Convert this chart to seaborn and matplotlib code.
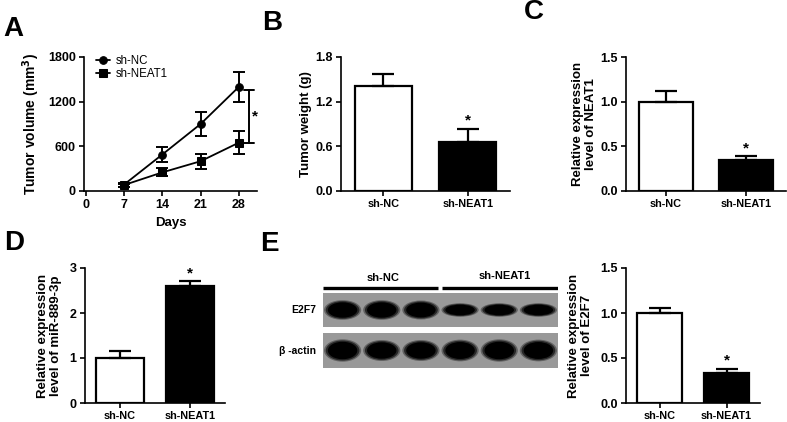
import numpy as np
import pandas as pd
import matplotlib
matplotlib.use("Agg")
import matplotlib.pyplot as plt
from matplotlib.patches import Ellipse
import seaborn as sns

sns.set_theme(style="ticks")
plt.rcParams['font.family'] = ['Liberation Sans', 'DejaVu Sans']
plt.rcParams['font.weight'] = 'bold'
plt.rcParams['axes.labelweight'] = 'bold'
plt.rcParams['axes.linewidth'] = 1.2
plt.rcParams['xtick.major.width'] = 1.2
plt.rcParams['ytick.major.width'] = 1.2
plt.rcParams['xtick.major.size'] = 3.5
plt.rcParams['ytick.major.size'] = 3.5
plt.rcParams['xtick.major.pad'] = 2.5
plt.rcParams['ytick.major.pad'] = 2.5
plt.rcParams['xtick.color'] = 'black'
plt.rcParams['ytick.color'] = 'black'
plt.rcParams['axes.edgecolor'] = 'black'
plt.rcParams['text.color'] = 'black'
plt.rcParams['axes.labelcolor'] = 'black'

# ---------------- data ----------------
groups = ["sh-NC", "sh-NEAT1"]
bar_colors = ["white", "black"]

# Panel A: tumor volume
days = [7, 14, 21, 28]
vol_nc = [85, 490, 900, 1400]
vol_nc_err = [25, 95, 155, 205]
vol_neat = [80, 250, 400, 650]
vol_neat_err = [20, 55, 100, 150]
a_xticks = [0, 7, 14, 21, 28]
a_yticks = [0, 600, 1200, 1800]

# Panel B: tumor weight
weight = [1.41, 0.66]
weight_err = [0.16, 0.17]
b_yticks = [0.0, 0.6, 1.2, 1.8]

# Panel C: NEAT1 expression
neat1_expr = [1.0, 0.35]
neat1_err = [0.115, 0.04]
c_yticks = [0.0, 0.5, 1.0, 1.5]

# Panel D: miR-889-3p expression
mir_expr = [1.0, 2.6]
mir_err = [0.15, 0.12]
d_yticks = [0, 1, 2, 3]

# Panel E: E2F7 expression + blot band intensities (relative band thickness)
e2f7_expr = [1.0, 0.335]
e2f7_err = [0.06, 0.045]
e_yticks = [0.0, 0.5, 1.0, 1.5]
blot_lanes = ["sh-NC", "sh-NC", "sh-NC", "sh-NEAT1", "sh-NEAT1", "sh-NEAT1"]
band_e2f7 = [0.58, 0.58, 0.56, 0.40, 0.40, 0.40]
band_actin = [0.64, 0.60, 0.60, 0.62, 0.64, 0.62]

W, H = 787, 422
fig = plt.figure(figsize=(W / 100, H / 100), dpi=100)


def px_axes(left, top, right, bottom):
    return fig.add_axes([left / W, 1 - bottom / H, (right - left) / W, (bottom - top) / H])


TICK_FS = 9
LAB_FS = 9.5
XT_FS = 7.8


def bar_panel(ax, vals, errs, yticks, ylabel, star_idx, star_off, label_x):
    df = pd.DataFrame({"group": groups, "value": vals})
    sns.barplot(data=df, x="group", y="value", hue="group", palette=bar_colors,
                edgecolor="black", linewidth=1.6, width=0.68, ax=ax, legend=False,
                errorbar=None)
    ax.errorbar(x=[0, 1], y=vals, yerr=[[0, 0], errs], fmt="none", ecolor="black",
                elinewidth=1.6, capsize=8, capthick=1.6, zorder=5)
    top = vals[star_idx] + errs[star_idx]
    ax.text(star_idx, top + star_off, "*", ha="center", va="bottom", fontsize=11,
            fontweight="bold")
    ax.set_xlim(-0.5, 1.5)
    ax.set_ylim(yticks[0], yticks[-1])
    ax.set_yticks(yticks)
    ax.set_yticklabels([str(t) for t in yticks], fontsize=TICK_FS, fontweight="bold")
    ax.set_xticks([0, 1])
    ax.set_xticklabels(groups, fontsize=XT_FS, fontweight="bold")
    ax.set_xlabel("")
    ax.set_ylabel(ylabel, fontsize=LAB_FS, fontweight="bold", linespacing=1.1)
    ax.yaxis.set_label_coords(label_x, 0.5)
    sns.despine(ax=ax)


# ---------------- Panel A ----------------
axA = px_axes(84, 57, 257, 191)
dfA = pd.DataFrame({
    "day": days + days,
    "vol": vol_nc + vol_neat,
    "group": ["sh-NC"] * len(days) + ["sh-NEAT1"] * len(days),
})
sns.lineplot(data=dfA, x="day", y="vol", hue="group", style="group",
             markers={"sh-NC": "o", "sh-NEAT1": "s"}, dashes=False,
             palette={"sh-NC": "black", "sh-NEAT1": "black"}, linewidth=1.3,
             markersize=5.5, markeredgecolor="black", ax=axA, errorbar=None)
axA.errorbar(days, vol_nc, yerr=vol_nc_err, fmt="none", ecolor="black",
             elinewidth=1.4, capsize=4, capthick=1.4)
axA.errorbar(days, vol_neat, yerr=vol_neat_err, fmt="none", ecolor="black",
             elinewidth=1.4, capsize=4, capthick=1.4)
# significance bracket
bx = 29.8
axA.plot([bx, bx], [vol_neat[-1], vol_nc[-1] - 40], color="black", lw=1.4)
axA.plot([bx - 0.9, bx + 0.9], [vol_nc[-1] - 40] * 2, color="black", lw=1.4)
axA.plot([bx - 0.9, bx + 0.9], [vol_neat[-1]] * 2, color="black", lw=1.4)
axA.text(bx + 0.5, 1000, "*", ha="left", va="center", fontsize=11, fontweight="bold")
axA.set_xlim(-0.3, 31.3)
axA.set_ylim(0, 1800)
axA.set_xticks(a_xticks)
axA.set_xticklabels([str(t) for t in a_xticks], fontsize=TICK_FS, fontweight="bold")
axA.set_yticks(a_yticks)
axA.set_yticklabels([str(t) for t in a_yticks], fontsize=TICK_FS, fontweight="bold")
axA.set_xlabel("Days", fontsize=LAB_FS, fontweight="bold", labelpad=4)
axA.set_ylabel("Tumor volume (mm$^\\mathbf{3}$)", fontsize=LAB_FS + 0.5, fontweight="bold")
axA.yaxis.set_label_coords(-0.24, 0.5)
leg = axA.legend(loc="upper left", bbox_to_anchor=(0.03, 1.07), frameon=False,
                 fontsize=8.3, handlelength=1.2, handletextpad=0.5, labelspacing=0.15,
                 borderaxespad=0.2)
for t in leg.get_texts():
    t.set_fontweight("normal")
sns.despine(ax=axA)

# ---------------- Panel B ----------------
axB = px_axes(341, 57, 510, 191)
bar_panel(axB, weight, weight_err, b_yticks, "Tumor weight (g)", 1, 0.02, -0.17)

# ---------------- Panel C ----------------
axC = px_axes(626, 57, 786, 191)
bar_panel(axC, neat1_expr, neat1_err, c_yticks, "Relative expression\nlevel of NEAT1",
          1, 0.01, -0.18)

# ---------------- Panel D ----------------
axD = px_axes(85, 268, 225, 403)
bar_panel(axD, mir_expr, mir_err, d_yticks, "Relative expression\nlevel of miR-889-3p",
          1, 0.0, -0.165)

# ---------------- Panel E (bars) ----------------
axE = px_axes(626, 268, 760, 403)
bar_panel(axE, e2f7_expr, e2f7_err, e_yticks, "Relative expression\nlevel of E2F7",
          1, 0.01, -0.245)

# ---------------- Panel E (blot) ----------------
def blot_panel(ax, bands, label):
    ax.set_facecolor("#999999")
    ax.set_xlim(0, len(bands))
    ax.set_ylim(0, 1)
    for i, h in enumerate(bands):
        for scale, alpha in [(1.0, 0.35), (0.9, 0.6), (0.78, 1.0)]:
            ax.add_patch(Ellipse((i + 0.5, 0.5), 0.95 * scale + 0.05 * (1 - scale),
                                 h * scale, facecolor="black", edgecolor="none",
                                 alpha=alpha))
    ax.set_xticks([])
    ax.set_yticks([])
    for s in ax.spines.values():
        s.set_visible(False)
    ax.text(-0.03, 0.5, label, transform=ax.transAxes, ha="right", va="center",
            fontsize=7.5, fontweight="bold")


axBlot1 = px_axes(323, 293, 558, 327)
blot_panel(axBlot1, band_e2f7, "E2F7")
axBlot2 = px_axes(323, 333, 558, 368)
blot_panel(axBlot2, band_actin, "β -actin")

axHead = px_axes(323, 265, 558, 291)
axHead.set_xlim(0, len(blot_lanes))
axHead.set_ylim(0, 1)
axHead.axis("off")
nc_n = blot_lanes.count("sh-NC")
axHead.plot([0, nc_n - 0.06], [0.12, 0.12], color="black", lw=2.4,
            solid_capstyle="butt")
axHead.plot([nc_n + 0.03, len(blot_lanes)], [0.12, 0.12], color="black", lw=2.4,
            solid_capstyle="butt")
axHead.text(nc_n / 2 + 0.03, 0.5, "sh-NC", ha="center", va="center", fontsize=8,
            fontweight="bold")
axHead.text(nc_n + (len(blot_lanes) - nc_n) / 2 + 0.15, 0.57, "sh-NEAT1", ha="center",
            va="center", fontsize=8, fontweight="bold")

# ---------------- panel letters ----------------
for letter, (x, y) in {"A": (13, 29), "B": (272, 23), "C": (534, 12),
                       "D": (14, 243), "E": (269, 244)}.items():
    fig.text(x / W, 1 - y / H, letter, ha="center", va="center", fontsize=20,
             fontweight="bold")

fig.savefig("out.png", dpi=100)
